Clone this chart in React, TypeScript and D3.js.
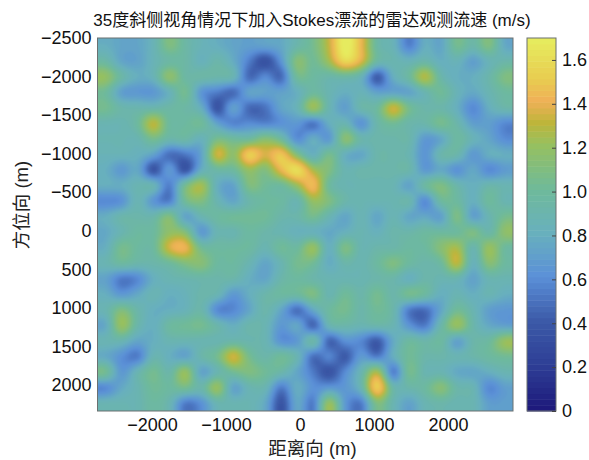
import { useEffect, useRef } from 'react';
import * as d3 from 'd3';

const titleText = '35度斜侧视角情况下加入Stokes漂流的雷达观测流速 (m/s)';
const xLabel = '距离向 (m)';
const yLabel = '方位向 (m)';

const xTicks = [-2000, -1000, 0, 1000, 2000];
const yTicks = [-2500, -2000, -1500, -1000, -500, 0, 500, 1000, 1500, 2000];
const cTicks = [0, 0.2, 0.4, 0.6, 0.8, 1, 1.2, 1.4, 1.6];

const xExtent = [-2736, 2878];
const yExtent = [-2500, 2337];
const cExtent = [0, 1.7];

const colorStops = [0, 0.2, 0.4, 0.6, 0.8, 1.0, 1.2, 1.3, 1.4, 1.5, 1.7];
const colorValues = ['#1e1a7c', '#2e3f96', '#3c5aa8', '#5b90d8', '#68b0bd', '#6fba9a', '#96c060', '#bdb53a', '#f0b058', '#e8cc50', '#e6f060'];

// surface velocity, one row per azimuth step (top to bottom)
const speed = [
  [.8, .74, .74, .85, 1.1, .95, .85, .8, .74, .7, .72, .76, .92, 1.05, 1.32, 1.72, 1.42, .95, .85, .55, .8, .74, 1.05, .92, 1.1, .76],
  [.95, .74, .72, .85, .95, .95, .82, .92, .78, .54, .34, .64, 1.14, 1.02, 1.24, 1.58, 1.38, .95, .9, .85, .92, .8, .85, .7, .85, .92],
  [1.2, .95, .8, .85, 1.18, .95, .95, .92, .88, .46, .6, .46, 1.02, .98, .92, .95, .85, .4, .8, .98, 1.3, .92, .8, .8, .92, 1.1],
  [1.0, .7, .66, .66, .82, 1.05, .64, .54, .46, .74, .72, .72, .8, .98, .88, .8, .85, .72, .72, .72, .88, 1.02, .85, .76, .88, .98],
  [1.05, .92, .9, .9, .95, .95, .8, .36, .72, .46, .5, .74, .85, 1.24, .88, .7, .92, .98, 1.36, 1.05, .92, .92, .8, .58, .8, .92],
  [.88, .88, .98, 1.32, .98, .98, 1.02, .72, .56, .6, .56, .62, .66, .5, .8, .88, .62, .92, 1.02, .92, .92, 1.06, .92, .7, .7, .58],
  [.88, .88, .88, 1.05, .92, .95, .82, 1.06, 1.0, .98, 1.14, .98, .6, .8, .66, 1.16, .92, .92, .92, .92, .66, .74, .98, .85, .74, .6],
  [.85, .85, .82, .72, .48, .52, .72, 1.36, 1.16, 1.54, 1.36, 1.5, 1.1, .8, 1.06, .8, .74, .92, .92, .88, .64, .92, .92, .66, .8, .8],
  [.8, .66, .76, .36, .68, .36, .8, .95, .98, 1.2, 1.1, 1.42, 1.62, 1.26, 1.1, .88, .92, .92, .92, .92, .66, .76, .62, .76, .58, .68],
  [.8, .8, .88, .88, .54, 1.05, 1.26, .8, .72, 1.1, 1.02, .98, 1.2, 1.46, .98, .88, .88, .88, .88, .72, .98, 1.1, .92, .8, .92, .88],
  [.58, .62, .88, .64, .54, 1.02, 1.1, .88, .74, .92, .98, .98, .88, 1.2, 1.1, .92, .88, .88, .88, .92, .58, .98, .98, .8, 1.0, .88],
  [.8, .92, .92, .92, 1.12, .72, .88, .98, 1.02, 1.02, 1.02, .92, .92, 1.05, .88, .74, .88, .74, .88, .74, .76, .7, 1.1, .7, .88, 1.05],
  [.76, .88, .98, .98, 1.18, 1.12, .66, .88, .88, .98, .92, .88, .82, .82, .76, .82, .88, .82, .92, .92, .98, .98, .98, 1.1, .92, 1.18],
  [.8, 1.06, .98, .98, 1.36, 1.42, 1.02, .98, .98, .98, .88, 1.02, .98, 1.22, .8, 1.1, .88, .92, .92, .98, .98, 1.14, 1.26, .88, 1.22, .98],
  [.88, .98, .92, .92, .98, 1.1, 1.14, .98, .98, .88, .74, .88, 1.05, 1.02, .78, .92, .88, .98, 1.1, .98, .92, .98, 1.32, .82, 1.14, .98],
  [.72, .53, .58, .8, .88, .9, .92, .92, .92, .8, .74, .92, .98, .92, .88, .88, .88, .92, .92, .8, .92, .88, .88, .72, .88, .88],
  [.8, .66, .76, .88, .8, .84, .92, .88, .66, .8, .92, .98, .98, 1.1, .88, 1.02, .92, 1.05, .92, 1.06, .98, .8, .88, .8, .88, .8],
  [.88, 1.1, .92, .8, .8, .84, .92, .58, .58, .74, .92, .74, .48, .76, .98, 1.05, .92, 1.02, .92, .53, .48, .74, 1.02, .88, .7, .66],
  [.76, 1.22, .92, .8, .98, 1.02, 1.05, .92, .8, .92, .88, .66, .76, .44, .88, .92, .88, .92, .88, .64, .53, .92, 1.22, .92, .76, .7],
  [.88, .88, .74, .8, .88, .88, .88, .88, .92, .9, .88, .62, .66, .95, .44, .62, .58, .4, .76, .98, .92, .98, .7, .92, .98, 1.22],
  [.76, .62, .53, .88, .8, .72, .92, 1.05, 1.36, 1.05, .92, 1.02, .88, .48, .58, .4, .68, .53, .8, 1.02, .92, .92, .88, .92, .98, 1.02],
  [1.05, .66, .88, 1.05, .92, 1.22, .72, .88, 1.02, 1.1, 1.02, .92, .74, .53, .36, .6, .88, 1.26, .53, 1.05, .88, .88, .76, .74, .8, .88],
  [.58, .76, .88, 1.02, .98, 1.05, .92, 1.22, .72, .88, .88, .53, .8, .62, .66, .66, .88, 1.54, .92, .92, .98, 1.14, .92, .88, .58, .7],
  [.88, .88, .88, .98, .88, .53, .62, .88, .88, .88, .76, .36, .76, .53, 1.22, .66, .53, 1.1, .88, .72, .88, .92, .88, .88, .7, .7],
];

const plot = { left: 97.5, right: 513, top: 38, bottom: 411 };
const bar = { left: 527, right: 556 };

// cubic through four neighbours, the same idea as interpolated shading
function cubic(a: number, b: number, c: number, d: number, t: number) {
  return b + 0.5 * t * (c - a + t * (2 * a - 5 * b + 4 * c - d + t * (3 * (b - c) + d - a)));
}

function sample(gridX: number, gridY: number) {
  const nRows = speed.length;
  const nCols = speed[0].length;
  const at = (j: number, i: number) =>
    speed[Math.min(nRows - 1, Math.max(0, j))][Math.min(nCols - 1, Math.max(0, i))];
  const i0 = Math.floor(gridX);
  const j0 = Math.floor(gridY);
  const tx = gridX - i0;
  const ty = gridY - j0;
  const rows = [-1, 0, 1, 2].map(dj =>
    cubic(at(j0 + dj, i0 - 1), at(j0 + dj, i0), at(j0 + dj, i0 + 1), at(j0 + dj, i0 + 2), tx));
  return cubic(rows[0], rows[1], rows[2], rows[3], ty);
}

export default function App() {
  const svgRef = useRef<SVGSVGElement>(null);

  useEffect(() => {
    const svg = d3.select(svgRef.current);
    svg.selectAll('*').remove();

    const nRows = speed.length;
    const nCols = speed[0].length;

    const x = d3.scaleLinear().domain(xExtent).range([plot.left, plot.right]);
    const y = d3.scaleLinear().domain(yExtent).range([plot.top, plot.bottom]);
    const c = d3.scaleLinear().domain(cExtent).range([plot.bottom, plot.top]);

    const color = d3.scaleLinear<string>().domain(colorStops).range(colorValues).interpolate(d3.interpolateRgb).clamp(true);
    const levels = d3.range(64).map(i => (i / 64) * cExtent[1]);

    // fine sampling of the grid for the contours, with a margin past the frame
    const fine = 4;
    const margin = 2;
    const w = (nCols + margin * 2) * fine;
    const h = (nRows + margin * 2) * fine;
    const flat: number[] = [];
    for (let j = 0; j < h; j++) {
      for (let i = 0; i < w; i++) {
        flat.push(sample((i + 0.5) / fine - margin - 0.5, (j + 0.5) / fine - margin - 0.5));
      }
    }

    const gx = d3.scaleLinear().domain([margin * fine, (nCols + margin) * fine]).range([plot.left, plot.right]);
    const gy = d3.scaleLinear().domain([margin * fine, (nRows + margin) * fine]).range([plot.top, plot.bottom]);
    const path = d3.geoPath(d3.geoTransform({
      point(px, py) { this.stream.point(gx(px), gy(py)); },
    }));

    const defs = svg.append('defs');
    defs.append('clipPath').attr('id', 'plot-clip').append('rect')
      .attr('x', plot.left).attr('y', plot.top)
      .attr('width', plot.right - plot.left).attr('height', plot.bottom - plot.top);
    defs.append('filter').attr('id', 'soften')
      .attr('filterUnits', 'userSpaceOnUse')
      .attr('x', 40).attr('y', -20).attr('width', 540).attr('height', 500)
      .append('feGaussianBlur').attr('stdDeviation', 1.5);

    const clip = svg.append('g').attr('clip-path', 'url(#plot-clip)');
    const field = clip.append('g').attr('filter', 'url(#soften)');
    field.selectAll('path')
      .data(d3.contours().size([w, h]).thresholds(levels)(flat))
      .enter().append('path')
      .attr('d', d => path(d) as string)
      .attr('fill', d => color(d.value))
      .attr('stroke', d => color(d.value))
      .attr('stroke-width', 0.5);

    svg.append('rect')
      .attr('x', plot.left).attr('y', plot.top)
      .attr('width', plot.right - plot.left).attr('height', plot.bottom - plot.top)
      .attr('fill', 'none').attr('stroke', '#6b7070').attr('stroke-width', 1);

    const styleAxis = (g: any) => {
      g.select('.domain').remove();
      g.selectAll('text')
        .style('font-family', '"Liberation Sans", Arial, sans-serif')
        .style('font-size', '18px')
        .attr('fill', '#111');
    };
    const minusFmt = (v: any) => (v < 0 ? '\u2212' + Math.abs(v) : String(v));

    svg.append('g').attr('transform', `translate(0,${plot.bottom})`)
      .call(d3.axisBottom(x).tickValues(xTicks).tickSize(0).tickPadding(7).tickFormat(minusFmt))
      .call(styleAxis);

    svg.append('g').attr('transform', `translate(${plot.left},0)`)
      .call(d3.axisLeft(y).tickValues(yTicks).tickSize(0).tickPadding(6).tickFormat(minusFmt))
      .call(styleAxis);

    // colorbar
    const barG = svg.append('g');
    barG.selectAll('rect')
      .data(levels)
      .enter().append('rect')
      .attr('x', bar.left).attr('width', bar.right - bar.left)
      .attr('y', d => c(d + cExtent[1] / 64))
      .attr('height', (plot.bottom - plot.top) / 64 + 0.5)
      .attr('fill', d => color(d));
    barG.append('rect')
      .attr('x', bar.left).attr('y', plot.top)
      .attr('width', bar.right - bar.left).attr('height', plot.bottom - plot.top)
      .attr('fill', 'none').attr('stroke', '#6b7070').attr('stroke-width', 1);

    const cAxis = svg.append('g').attr('transform', `translate(${bar.right},0)`)
      .call(d3.axisRight(c).tickValues(cTicks).tickSize(-4).tickPadding(6).tickFormat(d => (d === 0 ? '0' : d3.format('.1f')(d))))
      .call(styleAxis);
    cAxis.selectAll('line').attr('stroke', '#444');

    const cjk = '"Liberation Sans", "Noto Sans CJK SC", sans-serif';
    svg.append('text').attr('x', 312).attr('y', 26).attr('text-anchor', 'middle')
      .style('font-family', cjk).style('font-size', '17px').attr('fill', '#111').text(titleText);
    svg.append('text').attr('x', 312.5).attr('y', 455).attr('text-anchor', 'middle')
      .style('font-family', cjk).style('font-size', '18.5px').attr('fill', '#222').text(xLabel);
    svg.append('text').attr('transform', 'translate(28,205) rotate(-90)').attr('text-anchor', 'middle')
      .style('font-family', cjk).style('font-size', '18.5px').attr('fill', '#222').text(yLabel);
  }, []);

  return (
    <svg ref={svgRef} width={589} height={460} style={{ position: 'absolute', left: 0, top: 0, background: '#fff' }} />
  );
}
